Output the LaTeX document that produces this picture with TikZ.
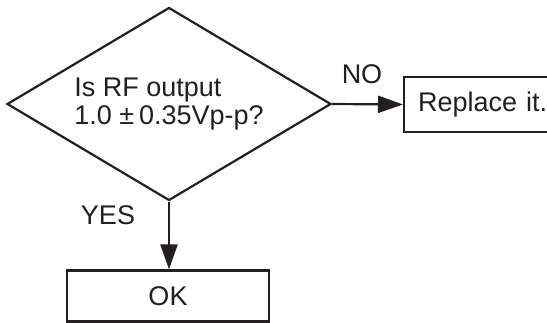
\documentclass[tikz,border=0pt]{standalone}
\usepackage{fontspec}
\setmainfont{Liberation Sans}
\usepackage{xcolor}
\usetikzlibrary{shapes.geometric,arrows.meta,positioning}

\definecolor{inkgray}{HTML}{231F20}

\begin{document}
\begin{tikzpicture}[x=0.5pt,y=-0.5pt]
  % Styles
  \tikzset{
    decision/.style={diamond, draw=inkgray, line width=1.1pt, inner sep=0pt,
      shape aspect=1.68, minimum width=162pt, minimum height=96.5pt, align=left,
      font=\fontsize{13.5pt}{13.8pt}\selectfont, text=inkgray},
    action/.style={rectangle, draw=inkgray, line width=1.1pt, inner sep=0pt,
      font=\fontsize{13.5pt}{13.8pt}\selectfont, text=inkgray},
    answer/.style={font=\fontsize{13.5pt}{13.8pt}\selectfont, text=inkgray},
    arrow/.style={-{Triangle[length=12.5pt,width=8.5pt]}, line width=1.1pt, draw=inkgray}
  }
  \useasboundingbox (0,0) rectangle (547,322);

  % Decision
  \node[decision] (check) at (169,104) {Is RF output\\1.0 ±\kern2.5pt0.35Vp-p?};

  % Actions
  \node[action, anchor=west, minimum width=80pt, minimum height=27.5pt,
    text width=66pt, inner xsep=7pt, align=left] (replace) at (403,104.5) {Replace it.};
  \node[action, minimum width=101pt, minimum height=25.5pt] (ok) at (168,296) {OK};

  % Answers
  \node[answer] (no) at (362,74) {NO};
  \node[answer] (yes) at (108,215) {YES};

  % Arrows
  \draw[arrow] (check.east) -- (replace.west);
  \draw[arrow] (check.south) -- (check.south |- ok.north);
\end{tikzpicture}
\end{document}
